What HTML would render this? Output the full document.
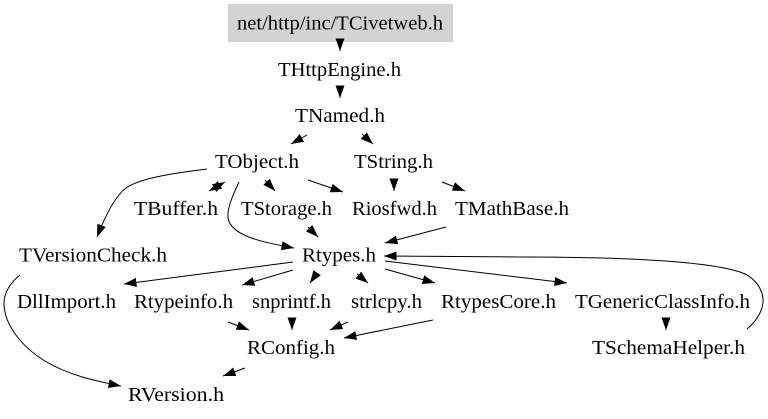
<!DOCTYPE html>
<html><head><meta charset="utf-8"><style>
html,body{margin:0;padding:0;background:#fff}
svg{display:block}
text{font-family:"Liberation Serif",serif;font-size:20.5px;fill:#000}
path{fill:none;stroke:#000;stroke-width:1}
</style></head><body>
<svg width="768" height="419" viewBox="0 0 768 419" xmlns="http://www.w3.org/2000/svg">
<defs>
<marker id="a" markerUnits="userSpaceOnUse" markerWidth="14" markerHeight="12" refX="12.5" refY="5" orient="auto" viewBox="0 0 14 10"><polygon points="0,0.5 12.5,5 0,9.5" fill="#000"/></marker>
<marker id="b" markerUnits="userSpaceOnUse" markerWidth="14" markerHeight="12" refX="12.5" refY="5" orient="auto-start-reverse" viewBox="0 0 14 10"><polygon points="0,0.5 12.5,5 0,9.5" fill="#000"/></marker>
</defs>
<rect x="228" y="4" width="225" height="38" fill="#d3d3d3"/>
<path d="M340 39L340 51" marker-end="url(#a)"/>
<path d="M340 86L340 98" marker-end="url(#a)"/>
<path d="M307 135L291 144" marker-end="url(#a)"/>
<path d="M362 134L373 144" marker-end="url(#a)"/>
<path d="M225 182L209 191" marker-end="url(#b)" marker-start="url(#b)"/>
<path d="M265 180L275 191" marker-end="url(#a)"/>
<path d="M308 180L343 192" marker-end="url(#a)"/>
<path d="M394 179L394 191" marker-end="url(#a)"/>
<path d="M442 182L465 191" marker-end="url(#a)"/>
<path d="M207 169C175 173 140 178 126 188C114 197 104 219 97 237" marker-end="url(#a)"/>
<path d="M239 182C234 193 227 207 228 218C231 236 262 242 294 248" marker-end="url(#a)"/>
<path d="M308 227L318 237" marker-end="url(#a)"/>
<path d="M446 227L385 243" marker-end="url(#a)"/>
<path d="M293 262L124 284" marker-end="url(#a)"/>
<path d="M293 270L242 285" marker-end="url(#a)"/>
<path d="M317 273L310 283" marker-end="url(#a)"/>
<path d="M357 274L368 283" marker-end="url(#a)"/>
<path d="M385 269L435 283" marker-end="url(#a)"/>
<path d="M385 261L567 283" marker-end="url(#a)"/>
<path d="M747 329C758 320 764 308 763 298C761 285 752 276 740 272C700 259 600 257 520 257C470 257 425 256 384 256" marker-end="url(#a)"/>
<path d="M666 319L666 330" marker-end="url(#a)"/>
<path d="M228 322L249 330" marker-end="url(#a)"/>
<path d="M292 319L292 330" marker-end="url(#a)"/>
<path d="M348 322L330 330" marker-end="url(#a)"/>
<path d="M433 320L344 338" marker-end="url(#a)"/>
<path d="M245 368L223 376" marker-end="url(#a)"/>
<path d="M20 275C10 283 4 293 4 303C4 325 22 347 45 361C68 375 95 381 121 386" marker-end="url(#a)"/>
<text x="237" y="29.5" textLength="206" lengthAdjust="spacingAndGlyphs">net/http/inc/TCivetweb.h</text>
<text x="278" y="76" textLength="123" lengthAdjust="spacingAndGlyphs">THttpEngine.h</text>
<text x="295" y="122" textLength="90" lengthAdjust="spacingAndGlyphs">TNamed.h</text>
<text x="215" y="168" textLength="84" lengthAdjust="spacingAndGlyphs">TObject.h</text>
<text x="354" y="168" textLength="79" lengthAdjust="spacingAndGlyphs">TString.h</text>
<text x="134" y="215" textLength="84" lengthAdjust="spacingAndGlyphs">TBuffer.h</text>
<text x="241" y="215" textLength="91" lengthAdjust="spacingAndGlyphs">TStorage.h</text>
<text x="352" y="215" textLength="85" lengthAdjust="spacingAndGlyphs">Riosfwd.h</text>
<text x="455" y="215" textLength="114" lengthAdjust="spacingAndGlyphs">TMathBase.h</text>
<text x="19" y="261.5" textLength="148" lengthAdjust="spacingAndGlyphs">TVersionCheck.h</text>
<text x="302" y="261.5" textLength="74" lengthAdjust="spacingAndGlyphs">Rtypes.h</text>
<text x="17" y="308" textLength="99" lengthAdjust="spacingAndGlyphs">DllImport.h</text>
<text x="134" y="308" textLength="99" lengthAdjust="spacingAndGlyphs">Rtypeinfo.h</text>
<text x="252" y="308" textLength="79" lengthAdjust="spacingAndGlyphs">snprintf.h</text>
<text x="351" y="308" textLength="71" lengthAdjust="spacingAndGlyphs">strlcpy.h</text>
<text x="441" y="308" textLength="115" lengthAdjust="spacingAndGlyphs">RtypesCore.h</text>
<text x="575" y="308" textLength="175" lengthAdjust="spacingAndGlyphs">TGenericClassInfo.h</text>
<text x="247" y="354" textLength="88" lengthAdjust="spacingAndGlyphs">RConfig.h</text>
<text x="592" y="354" textLength="153" lengthAdjust="spacingAndGlyphs">TSchemaHelper.h</text>
<text x="128" y="401" textLength="96" lengthAdjust="spacingAndGlyphs">RVersion.h</text>
</svg>
</body></html>
